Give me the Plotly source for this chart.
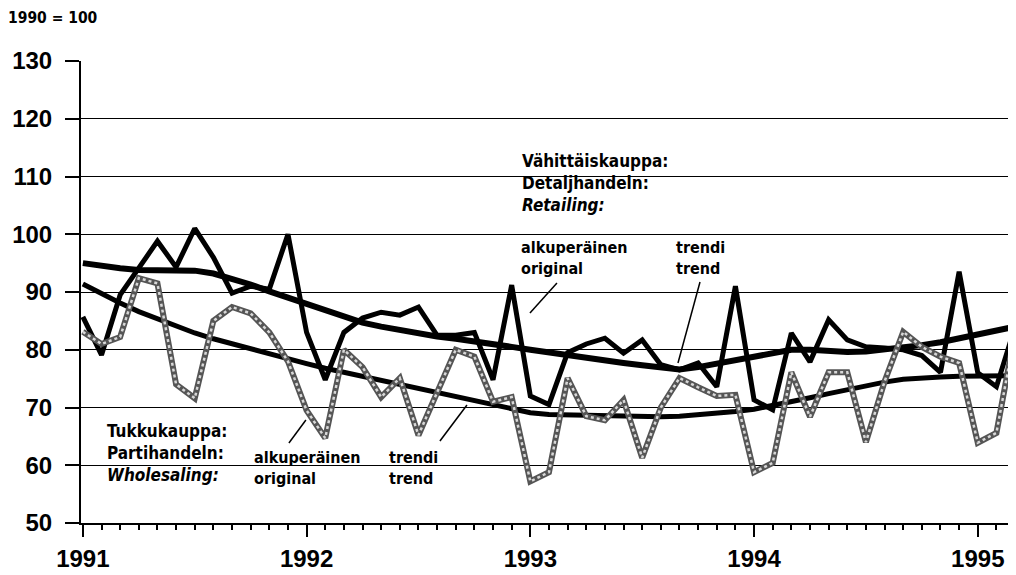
import plotly.graph_objects as go

# monthly index 0 = Jan 1991 ... 50 = Mar 1995, 1990 = 100
months = list(range(51))

retail_orig = [85.7, 79.1, 89.5, 94.0, 98.8, 94.3, 101.0, 96.0, 89.8, 91.0,
               90.5, 100.0, 83.0, 74.8, 83.0, 85.5, 86.5, 86.0, 87.4, 82.5,
               82.5, 83.0, 74.8, 91.2, 72.0, 70.5, 79.5, 81.0, 82.0, 79.4,
               81.7, 77.4, 76.5, 77.7, 73.6, 91.0, 71.3, 69.6, 82.9, 77.9,
               85.2, 81.7, 80.5, 80.3, 80.0, 79.0, 76.1, 93.5, 76.0, 73.6,
               84.0]

retail_trend = [95.0, 94.5, 94.1, 93.8, 93.8, 93.8, 93.7, 93.2, 92.3, 91.3,
                90.1, 89.0, 87.9, 86.7, 85.6, 84.7, 84.0, 83.4, 82.8, 82.3,
                81.9, 81.5, 81.0, 80.5, 80.0, 79.5, 79.1, 78.6, 78.1, 77.7,
                77.3, 76.9, 76.6, 77.0, 77.6, 78.3, 79.0, 79.6, 80.0, 80.0,
                79.8, 79.6, 79.7, 80.0, 80.4, 80.8, 81.3, 82.0, 82.7, 83.3,
                84.0]

whole_orig = [83.1, 81.0, 82.2, 92.4, 91.5, 74.0, 71.6, 85.0, 87.4, 86.3,
              83.0, 78.0, 69.5, 64.7, 80.0, 77.0, 71.8, 75.1, 65.2, 72.5,
              80.0, 78.8, 71.0, 71.8, 57.2, 58.8, 75.1, 68.5, 67.8, 71.3,
              61.3, 70.0, 75.1, 73.5, 72.0, 72.2, 58.8, 60.4, 76.1, 68.4,
              76.1, 76.1, 64.0, 74.5, 83.1, 80.5, 78.8, 77.7, 63.9, 65.6,
              83.0]

whole_trend = [91.4, 89.7, 88.1, 86.6, 85.3, 84.0, 82.9, 81.9, 81.0, 80.1,
               79.3, 78.5, 77.6, 76.8, 76.1, 75.4, 74.7, 74.0, 73.3, 72.6,
               71.9, 71.2, 70.4, 69.7, 69.1, 68.8, 68.7, 68.6, 68.5, 68.5,
               68.4, 68.4, 68.5, 68.7, 69.0, 69.3, 69.7, 70.3, 71.0, 71.7,
               72.4, 73.1, 73.8, 74.4, 74.9, 75.2, 75.3, 75.4, 75.4, 75.5,
               75.5]

year_ticks = [0, 12, 24, 36, 48]
year_labels = ['1991', '1992', '1993', '1994', '1995']

LABEL_FONT = "DejaVu Sans Condensed, DejaVu Sans, sans-serif"
TICK_FONT = "Liberation Sans, Arial, sans-serif"


def px_x(px):
    return (px - 83) / 18.64


def px_y(py):
    return 130 - (py - 61) / 5.775


fig = go.Figure()

fig.add_trace(go.Scatter(x=months, y=retail_trend, mode='lines',
                         line=dict(color='black', width=6)))
fig.add_trace(go.Scatter(x=months, y=whole_trend, mode='lines',
                         line=dict(color='black', width=5)))
fig.add_trace(go.Scatter(x=months, y=retail_orig, mode='lines',
                         line=dict(color='black', width=5)))
# halftone grey line: dark edge + light core
fig.add_trace(go.Scatter(x=months, y=whole_orig, mode='lines',
                         line=dict(color='#555555', width=6)))
fig.add_trace(go.Scatter(x=months, y=whole_orig, mode='lines',
                         line=dict(color='#d8d8d8', width=2.5, dash='dot')))

labels = [
    (521, 150, 17, "Vähittäiskauppa:<br>Detaljhandeln:<br><i>Retailing:</i>"),
    (520, 237, 16, "alkuperäinen<br>original"),
    (675, 237, 16, "trendi<br>trend"),
    (106, 420, 17, "Tukkukauppa:<br>Partihandeln:<br><i>Wholesaling:</i>"),
    (253, 447, 16, "alkuperäinen<br>original"),
    (388, 447, 16, "trendi<br>trend"),
]
annotations = []
for lx, ly, fs, txt in labels:
    annotations.append(dict(x=px_x(lx), y=px_y(ly), xref='x', yref='y',
                            text=txt, showarrow=False, align='left',
                            xanchor='left', yanchor='top', borderpad=0,
                            font=dict(family=LABEL_FONT, size=fs, color='black',
                                      weight='bold')))
annotations.append(dict(x=0, y=1, xref='paper', yref='paper',
                        xshift=-74, yshift=53,
                        text="1990 = 100", showarrow=False,
                        xanchor='left', yanchor='top', borderpad=0,
                        font=dict(family=LABEL_FONT, size=15.5, color='black',
                                  weight='bold')))

leaders = [((557, 283), (530, 313)), ((700, 282), (678, 363)),
           ((306, 420), (289, 443)), ((467, 405), (440, 441))]
shapes = []
for (x0, y0), (x1, y1) in leaders:
    shapes.append(dict(type='line', xref='x', yref='y',
                       x0=px_x(x0), y0=px_y(y0), x1=px_x(x1), y1=px_y(y1),
                       line=dict(color='black', width=1.5)))

# page body adds an 8px margin, so the figure is 8px smaller on each side
fig.update_layout(
    width=1008, height=567,
    margin=dict(l=73, r=0, t=53, b=52, autoexpand=False),
    plot_bgcolor='white', paper_bgcolor='white',
    showlegend=False,
    annotations=annotations,
    shapes=shapes,
)

fig.update_xaxes(range=[-0.1, 50.05], tickvals=year_ticks, ticktext=year_labels,
                 automargin=False,
                 ticks='outside', ticklen=12, tickwidth=2, tickcolor='black',
                 ticklabelstandoff=1,
                 minor=dict(dtick=1, ticks='outside', ticklen=5, tickwidth=1.5,
                            tickcolor='black', showgrid=False),
                 showline=True, linecolor='black', linewidth=2,
                 showgrid=False, zeroline=False,
                 tickfont=dict(family=TICK_FONT, size=24, color='black', weight='bold'))
fig.update_yaxes(range=[50, 130], dtick=10, ticks='outside', ticklen=14,
                 automargin=False, ticklabelstandoff=8,
                 tickwidth=1.5, tickcolor='black',
                 showline=True, linecolor='black', linewidth=2,
                 showgrid=True, gridcolor='black', gridwidth=1.2, zeroline=False,
                 tickfont=dict(family=TICK_FONT, size=24, color='black', weight='bold'))

fig.write_html("out.html")
